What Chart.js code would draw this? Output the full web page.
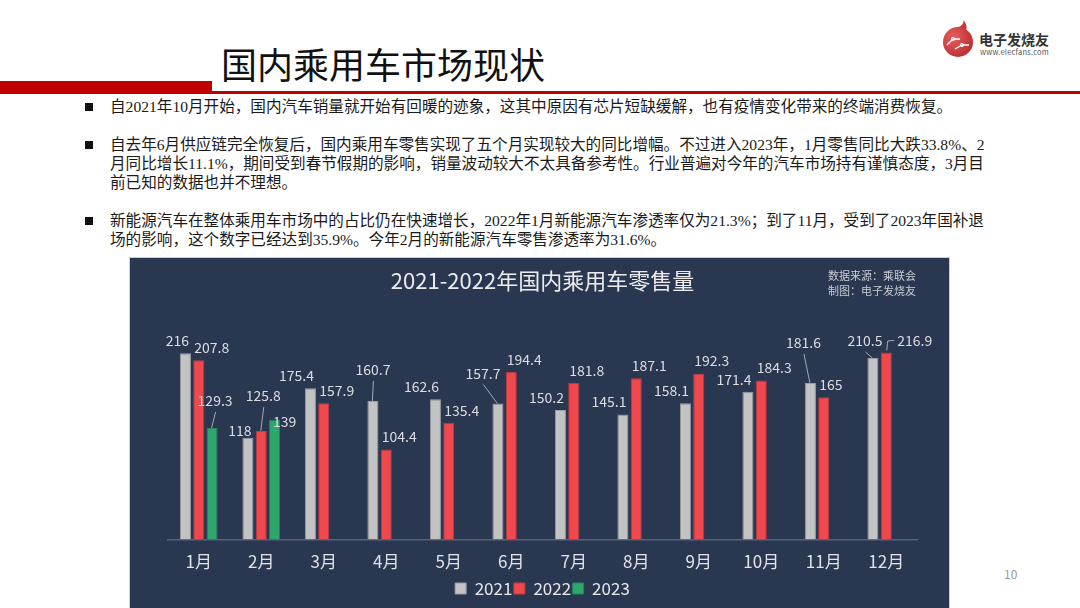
<!DOCTYPE html>
<html>
<head>
<meta charset="utf-8">
<script src="https://cdn.jsdelivr.net/npm/chart.js@4.4.1/dist/chart.umd.min.js"></script>
<style>
  body { margin: 0; width: 1080px; height: 608px; overflow: hidden; background: #fff; position: relative;
         font-family: 'Noto Sans CJK SC', 'Noto Sans', sans-serif; }
  .bandThick { position: absolute; left: 0; top: 81px; width: 212px; height: 13px; background: #c00000; }
  .bandThin { position: absolute; left: 212px; top: 91px; width: 868px; height: 3px; background: #c00000; }
  .title { position: absolute; left: 221px; top: 40px; font-size: 36px; line-height: 46px; color: #111; white-space: nowrap; }
  .logo { position: absolute; left: 940px; top: 18px; }
  .logoName { position: absolute; left: 979px; top: 29px; font-size: 14px; line-height: 20px; font-weight: 700; color: #333; white-space: nowrap; }
  .logoUrl { position: absolute; left: 980px; top: 47px; font-size: 7.5px; line-height: 10px; color: #555; white-space: nowrap; letter-spacing: 0.2px; }
  .bullet { position: absolute; left: 85px; width: 8px; height: 8px; background: #111; }
  .lines { position: absolute; left: 110px; font-family: 'Liberation Serif', 'Noto Sans CJK SC', serif;
           font-size: 15.6px; line-height: 19px; color: #1a1a1a; white-space: nowrap; }
  .panel { position: absolute; left: 129px; top: 257px; width: 819px; height: 360px; background: #2a3751;
           border: 1px solid #c9ccd2; }
  .panel canvas { position: absolute; left: 0; top: 0; }
  .source { position: absolute; left: 698px; top: 10px; font-size: 11px; line-height: 15px; color: #c9ccd3; white-space: nowrap; }
  .pageNo { position: absolute; left: 1004px; top: 565px; font-size: 12px; color: #9a9a9a; }
</style>
</head>
<body>
<div class="bandThick"></div>
<div class="bandThin"></div>
<div class="title">国内乘用车市场现状</div>

<svg class="logo" width="36" height="42" viewBox="0 0 36 42">
  <defs>
    <radialGradient id="lg" cx="0.35" cy="0.35" r="0.8">
      <stop offset="0" stop-color="#e8605c"/>
      <stop offset="1" stop-color="#b3262a"/>
    </radialGradient>
  </defs>
  <path d="M18 9 C22 8 24 5 23.5 2 C27 6 27 10 26 12 Z" fill="#c9393a"/>
  <circle cx="18" cy="24" r="15" fill="url(#lg)"/>
  <path d="M7 27 L13 21 L20 21 M15 31 L22 27 L29 27" stroke="#fff" stroke-width="1.3" fill="none"/>
  <circle cx="13" cy="21" r="1.6" fill="none" stroke="#fff" stroke-width="1"/>
  <circle cx="22" cy="27" r="1.6" fill="none" stroke="#fff" stroke-width="1"/>
</svg>
<div class="logoName">电子发烧友</div>
<div class="logoUrl">www.elecfans.com</div>

<div class="bullet" style="top:103px"></div>
<div class="lines" style="top:97px">
  <div>自2021年10月开始，国内汽车销量就开始有回暖的迹象，这其中原因有芯片短缺缓解，也有疫情变化带来的终端消费恢复。</div>
</div>
<div class="bullet" style="top:141px"></div>
<div class="lines" style="top:135px">
  <div>自去年6月供应链完全恢复后，国内乘用车零售实现了五个月实现较大的同比增幅。不过进入2023年，1月零售同比大跌33.8%、2</div>
  <div>月同比增长11.1%，期间受到春节假期的影响，销量波动较大不太具备参考性。行业普遍对今年的汽车市场持有谨慎态度，3月目</div>
  <div>前已知的数据也并不理想。</div>
</div>
<div class="bullet" style="top:217px"></div>
<div class="lines" style="top:211px">
  <div>新能源汽车在整体乘用车市场中的占比仍在快速增长，2022年1月新能源汽车渗透率仅为21.3%；到了11月，受到了2023年国补退</div>
  <div>场的影响，这个数字已经达到35.9%。今年2月的新能源汽车零售渗透率为31.6%。</div>
</div>

<div class="panel">
  <canvas id="salesChart" width="819" height="351"></canvas>
  <div class="source">数据来源：乘联会<br>制图：电子发烧友</div>
</div>
<div class="pageNo">10</div>

<script>
const months = ['1月', '2月', '3月', '4月', '5月', '6月', '7月', '8月', '9月', '10月', '11月', '12月'];
const sales2021 = [216, 118, 175.4, 160.7, 162.6, 157.7, 150.2, 145.1, 158.1, 171.4, 181.6, 210.5];
const sales2022 = [207.8, 125.8, 157.9, 104.4, 135.4, 194.4, 181.8, 187.1, 192.3, 184.3, 165, 216.9];
const sales2023 = [129.3, 139, null, null, null, null, null, null, null, null, null, null];

const FONT = "'Noto Sans CJK SC', 'Noto Sans', sans-serif";

// labels that were pushed around to avoid overlaps (offsets from the bar top)
const labelTweaks = {
  '0-1': { dy: 5 },
  '0-3': { ox: 0, oy: -31, line: true },
  '0-5': { ox: -15, oy: -30, line: true },
  '0-10': { ox: -7, oy: -40, line: true },
  '0-11': { ox: -8, oy: -17, line: true },
  '1-1': { ox: 2, oy: -35, line: true },
  '1-11': { ox: 28.5, oy: -11.5, elbow: true },
  '2-0': { ox: 3, oy: -27, line: true },
  '2-1': { dy: 15 }
};

const valueLabels = {
  id: 'valueLabels',
  afterDatasetsDraw(chart) {
    const ctx = chart.ctx;
    ctx.save();
    ctx.font = '14px ' + FONT;
    ctx.fillStyle = '#dcdde0';
    ctx.strokeStyle = '#a3a9b4';
    ctx.lineWidth = 1;
    ctx.textBaseline = 'middle';
    chart.data.datasets.forEach((ds, d) => {
      chart.getDatasetMeta(d).data.forEach((bar, i) => {
        const v = ds.data[i];
        if (v == null) return;
        const half = bar.width / 2;
        const t = labelTweaks[d + '-' + i] || {};
        let x, y, align;
        if (t.ox !== undefined) {
          x = bar.x + t.ox; y = bar.y + t.oy; align = 'center';
        } else {
          y = bar.y - 12.5 + (t.dy || 0);
          if (d === 0) { x = bar.x + half - 2; align = 'right'; }
          else { x = bar.x - half + (d === 2 ? 4 : 1); align = 'left'; }
        }
        const text = String(v);
        ctx.textAlign = align;
        ctx.fillText(text, x, y);
        if (t.line) {
          ctx.beginPath();
          ctx.moveTo(x + 0.5, y + 11);
          ctx.lineTo(bar.x - 0.5, bar.y);
          ctx.stroke();
        }
        if (t.elbow) {
          const w = ctx.measureText(text).width;
          ctx.beginPath();
          ctx.moveTo(bar.x + 0.5, bar.y - 2);
          ctx.lineTo(bar.x + 1.5, y);
          ctx.lineTo(x - w / 2 - 3, y - 0.5);
          ctx.stroke();
        }
      });
    });
    ctx.restore();
  }
};

new Chart(document.getElementById('salesChart'), {
  type: 'bar',
  data: {
    labels: months,
    datasets: [
      { label: '2021', data: sales2021, backgroundColor: '#c3c3c3', borderColor: '#9c9ea3' },
      { label: '2022', data: sales2022, backgroundColor: '#f0484c', borderColor: '#c53a40' },
      { label: '2023', data: sales2023, backgroundColor: '#2fa66c', borderColor: '#24865a' }
    ]
  },
  options: {
    responsive: false,
    devicePixelRatio: 1,
    animation: false,
    datasets: {
      bar: { categoryPercentage: 0.64, barPercentage: 0.83, borderWidth: 1, borderSkipped: 'start' }
    },
    layout: { padding: { left: 37.5, right: 31.5, top: 0, bottom: 2 } },
    scales: {
      x: {
        grid: { display: false, drawTicks: false },
        border: { display: true, color: '#56617a', width: 1.5 },
        ticks: { color: '#e2e3e6', font: { family: FONT, size: 17 }, padding: 12 },
        // tighter label band than chart.js reserves by default
        afterFit(scale) { scale.height -= 5.5; }
      },
      y: { display: false, min: 0, max: 250 }
    },
    plugins: {
      title: {
        display: true,
        text: '2021-2022年国内乘用车零售量',
        color: '#ececee',
        font: { family: FONT, size: 22, weight: 'normal' },
        padding: { top: 9.5, bottom: 30 }
      },
      legend: {
        position: 'bottom',
        labels: {
          color: '#e6e7ea',
          font: { family: FONT, size: 17 },
          boxWidth: 11,
          boxHeight: 11,
          padding: 1.5
        }
      },
      tooltip: { enabled: false }
    }
  },
  plugins: [valueLabels]
});
</script>
</body>
</html>
